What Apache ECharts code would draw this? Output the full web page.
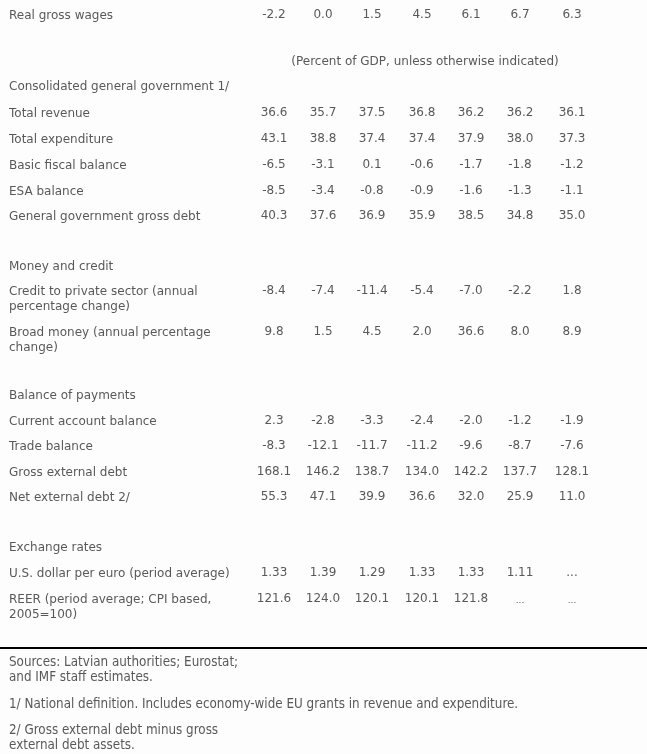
<!DOCTYPE html>
<html>
<head>
<meta charset="utf-8">
<script src="https://cdn.jsdelivr.net/npm/echarts@6/dist/echarts.min.js"></script>
<style>
html,body{margin:0;padding:0;background:#fdfdfd;}
#chart{width:647px;height:754px;}
</style>
</head>
<body>
<div id="chart"></div>
<script>
// ---- data ----
var rowLabels = [
  "Real gross wages",
  "Total revenue",
  "Total expenditure",
  "Basic fiscal balance",
  "ESA balance",
  "General government gross debt",
  "Credit to private sector (annual\npercentage change)",
  "Broad money (annual percentage\nchange)",
  "Current account balance",
  "Trade balance",
  "Gross external debt",
  "Net external debt 2/",
  "U.S. dollar per euro (period average)",
  "REER (period average; CPI based,\n2005=100)"
];
var realGrossWages   = [-2.2, 0.0, 1.5, 4.5, 6.1, 6.7, 6.3];
var totalRevenue     = [36.6, 35.7, 37.5, 36.8, 36.2, 36.2, 36.1];
var totalExpenditure = [43.1, 38.8, 37.4, 37.4, 37.9, 38.0, 37.3];
var basicFiscal      = [-6.5, -3.1, 0.1, -0.6, -1.7, -1.8, -1.2];
var esaBalance       = [-8.5, -3.4, -0.8, -0.9, -1.6, -1.3, -1.1];
var ggGrossDebt      = [40.3, 37.6, 36.9, 35.9, 38.5, 34.8, 35.0];
var creditPrivate    = [-8.4, -7.4, -11.4, -5.4, -7.0, -2.2, 1.8];
var broadMoney       = [9.8, 1.5, 4.5, 2.0, 36.6, 8.0, 8.9];
var currentAccount   = [2.3, -2.8, -3.3, -2.4, -2.0, -1.2, -1.9];
var tradeBalance     = [-8.3, -12.1, -11.7, -11.2, -9.6, -8.7, -7.6];
var grossExtDebt     = [168.1, 146.2, 138.7, 134.0, 142.2, 137.7, 128.1];
var netExtDebt       = [55.3, 47.1, 39.9, 36.6, 32.0, 25.9, 11.0];
var usdPerEuro       = [1.33, 1.39, 1.29, 1.33, 1.33, 1.11, null];
var reer             = [121.6, 124.0, 120.1, 120.1, 121.8, null, null];
var rowDecimals      = [1,1,1,1,1,1,1,1,1,1,1,1,2,1];
var sectionTitles = ["Consolidated general government 1/", "Money and credit", "Balance of payments", "Exchange rates"];
var unitNote = "(Percent of GDP, unless otherwise indicated)";
var footnotes = [
  "Sources: Latvian authorities; Eurostat;\nand IMF staff estimates.",
  "1/ National definition. Includes economy-wide EU grants in revenue and expenditure.",
  "2/ Gross external debt minus gross\nexternal debt assets."
];
var rowValues = [realGrossWages, totalRevenue, totalExpenditure, basicFiscal, esaBalance, ggGrossDebt,
  creditPrivate, broadMoney, currentAccount, tradeBalance, grossExtDebt, netExtDebt, usdPerEuro, reer];

// ---- layout (positions, not data) ----
var colX = [274, 323, 372, 422, 471, 520, 572];
var rowY = [16, 114, 140, 166, 192, 217, 292, 333, 422, 447, 473, 498, 574, 600];
var sectionY = [87, 267, 396, 548];
var labelX = 9;
var unitNoteX = 425, unitNoteY = 62;
var footY = [663, 705, 731];
var ruleY = 648;
var lineH = 15;

var textColor = '#2e2e2e';
var mainFont = 'DejaVu Sans';
var mainSize = 12;

// numbers
var numData = [];
var smallNumData = [];
rowValues.forEach(function (vals, r) {
  vals.forEach(function (v, c) {
    var txt = (v === null) ? '...' : v.toFixed(rowDecimals[r]);
    if (v === null && r === 13) {
      smallNumData.push({ value: [colX[c], rowY[r] + 1], txt: txt });
    } else {
      numData.push({ value: [colX[c], rowY[r] - 1], txt: txt });
    }
  });
});
// row labels (top line aligned with row)
var labelData = rowLabels.map(function (t, r) {
  return { value: [labelX, rowY[r] + (t.indexOf('\n') >= 0 ? lineH / 2 : 0)], txt: t };
});
var sectionData = sectionTitles.map(function (t, i) { return { value: [labelX, sectionY[i]], txt: t }; });
var footData = footnotes.map(function (t, i) {
  return { value: [labelX, footY[i] + (t.indexOf('\n') >= 0 ? lineH / 2 : 0)], txt: t };
});

function textSeries(data, align, font, size, extra) {
  return Object.assign({
    type: 'scatter', symbolSize: 0, silent: true, animation: false,
    data: data,
    label: {
      show: true, position: 'inside', align: align, verticalAlign: 'middle',
      color: textColor, fontFamily: font, fontSize: size, lineHeight: lineH,
      formatter: function (p) { return p.data.txt; }
    }
  }, extra || {});
}

var chart = echarts.init(document.getElementById('chart'), null, { renderer: 'canvas' });
chart.setOption({
  backgroundColor: '#fdfdfd',
  animation: false,
  grid: { left: 0, right: 0, top: 0, bottom: 0 },
  xAxis: { type: 'value', min: 0, max: 647, show: false },
  yAxis: { type: 'value', min: 0, max: 754, inverse: true, show: false },
  series: [
    textSeries(numData, 'center', mainFont, mainSize),
    textSeries(smallNumData, 'center', mainFont, 9),
    textSeries(labelData, 'left', mainFont, mainSize),
    textSeries(sectionData, 'left', mainFont, mainSize),
    textSeries([{ value: [unitNoteX, unitNoteY], txt: unitNote }], 'center', mainFont, mainSize),
    textSeries(footData, 'left', 'DejaVu Sans Condensed', 13.3),
    {
      type: 'line', silent: true, symbol: 'none', animation: false,
      data: [[0, ruleY], [647, ruleY]],
      lineStyle: { color: '#000', width: 2 }
    }
  ]
});
</script>
</body>
</html>
